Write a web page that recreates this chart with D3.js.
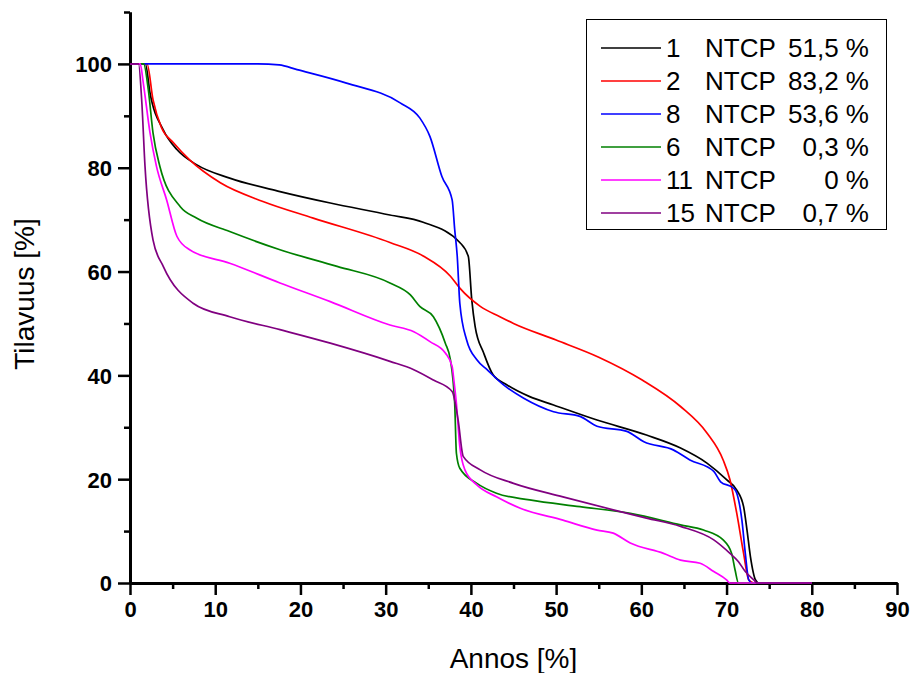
<!DOCTYPE html>
<html>
<head>
<meta charset="utf-8">
<script src="https://cdn.jsdelivr.net/npm/d3@7"></script>
<style>
  body { margin: 0; background: #fff; }
  text { font-family: Arial, "Liberation Sans", sans-serif; }
</style>
</head>
<body>
<div id="chart"></div>
<script>
// chart values (dose %, volume %)
var names = ["1", "2", "8", "6", "11", "15"];
var ntcp = ["51,5 %", "83,2 %", "53,6 %", "0,3 %", "0 %", "0,7 %"];
var colors = ["#000000", "#ff0000", "#0000ff", "#008000", "#ff00ff", "#800080"];

var dose1 = [0, 1.8, 2.35, 3.9, 5.5, 7.8, 11.7, 17.6, 23.5, 30.5, 34.4, 38.7, 39.7, 40.1, 40.5, 41.5, 42.6, 44.2, 46.9, 49.7, 54.8, 60.6, 64.6, 67.7, 70.0, 71.2, 72.0, 72.4, 72.8, 73.4, 73.8, 80];
var vol1 = [100, 100, 94.4, 87.3, 83.5, 80.6, 78.0, 75.4, 73.2, 70.9, 69.5, 65.6, 62.9, 54.6, 49.4, 44.3, 40.1, 38.2, 35.9, 34.3, 31.4, 28.5, 26.0, 23.1, 19.9, 17.9, 14.7, 10.2, 5.1, 0.6, 0, 0];

var dose2 = [0, 2.0, 2.7, 3.7, 5.1, 7.0, 10.6, 15.6, 21.5, 30.5, 34.4, 37.6, 38.7, 41.1, 43.4, 45, 50, 55, 60.1, 64.6, 67.7, 69.6, 70.4, 71.2, 72.0, 72.6, 73.2, 80];
var vol2 = [100, 100, 93.1, 87.7, 84.8, 81.5, 77.1, 73.5, 70.3, 65.6, 63.0, 59.1, 56.8, 53.3, 51.3, 50.0, 46.8, 43.5, 39.1, 34.0, 28.9, 23.7, 19.9, 13.4, 5.7, 0.6, 0, 0];

var dose8 = [0, 15.0, 17.5, 19.6, 25.4, 31.7, 34.0, 35.2, 36.6, 37.8, 38.1, 38.4, 38.7, 39.5, 40.7, 41.9, 43.8, 46.2, 49.7, 52.8, 54.8, 58.3, 60.3, 63.8, 65.7, 68.5, 69.3, 70.8, 71.2, 71.8, 72.2, 72.6, 73.0, 80];
var vol8 = [100, 100, 99.8, 98.9, 96.3, 92.5, 89.6, 86.0, 78.3, 73.8, 68.1, 62.9, 53.9, 46.8, 43.0, 41.1, 38.2, 35.6, 33.0, 32.1, 30.2, 29.2, 27.2, 25.6, 23.7, 21.5, 19.5, 18.3, 17.3, 12.1, 5.7, 0.6, 0, 0];

var dose6 = [0, 1.6, 2.15, 2.7, 3.5, 5.9, 7.8, 11.7, 17.6, 24.3, 30.5, 32.9, 34.0, 35.6, 37.0, 37.6, 37.9, 38.1, 38.3, 38.7, 40.7, 43.0, 46.9, 52.8, 58.7, 64.6, 67.3, 69.6, 70.6, 71.0, 71.4, 80];
var vol6 = [100, 100, 95.0, 86.7, 80.3, 72.5, 70.3, 67.7, 64.2, 61.0, 57.8, 55.5, 53.3, 51.3, 46.2, 43.0, 39.1, 34.6, 25.0, 22.1, 19.2, 17.3, 16.0, 14.7, 13.4, 11.2, 10.2, 8.3, 5.7, 2.5, 0, 0];

var dose11 = [0, 1.2, 1.56, 2.35, 3.1, 4.3, 5.5, 7.0, 11.7, 17.6, 23.5, 30.5, 33.3, 35.2, 37.0, 37.8, 38.0, 38.3, 38.7, 39.3, 40.7, 43.0, 45.8, 50.8, 54.8, 56.7, 58.7, 62.6, 64.6, 66.9, 68.5, 70.0, 70.4, 80];
var vol11 = [100, 100, 96.3, 86.7, 80.3, 73.8, 66.8, 64.2, 61.6, 57.8, 54.2, 49.7, 48.4, 46.5, 44.3, 41.7, 39.1, 34.6, 26.3, 21.8, 18.9, 16.6, 14.4, 12.1, 10.2, 9.6, 7.7, 5.7, 4.4, 3.8, 2.2, 0.6, 0, 0];

var dose15 = [0, 1.0, 1.37, 1.76, 2.7, 3.9, 7.4, 11.7, 17.6, 23.5, 30.5, 33.3, 35.6, 37.8, 38.5, 39.1, 41.1, 45.0, 50.8, 56.7, 60.6, 64.6, 68.5, 70.4, 71.4, 72.2, 73.2, 73.6, 80];
var vol15 = [100, 100, 93.1, 80.3, 66.1, 61.0, 53.9, 51.3, 48.8, 46.2, 42.7, 41.1, 39.1, 36.9, 31.4, 24.4, 21.8, 19.2, 16.6, 14.1, 12.5, 10.9, 8.3, 5.7, 4.1, 2.2, 0.6, 0, 0];

var xMajor = [0, 10, 20, 30, 40, 50, 60, 70, 80, 90];
var yMajor = [0, 20, 40, 60, 80, 100];

var series = [
  { x: dose1, y: vol1 },
  { x: dose2, y: vol2 },
  { x: dose8, y: vol8 },
  { x: dose6, y: vol6 },
  { x: dose11, y: vol11 },
  { x: dose15, y: vol15 }
];

var svgWidth = 912;
var svgHeight = 673;
var margin = { top: 12, right: 15, bottom: 90, left: 130 };
var width = svgWidth - margin.left - margin.right;
var height = svgHeight - margin.top - margin.bottom;

var svg = d3.select("#chart")
  .append("svg")
  .attr("width", svgWidth)
  .attr("height", svgHeight);

var chartGroup = svg.append("g")
  .attr("transform", `translate(${margin.left}, ${margin.top})`);

var xScale = d3.scaleLinear().domain([0, 90]).range([0, width]);
var yScale = d3.scaleLinear().domain([0, 110]).range([height, 0]);

// minor ticks first, then major ticks with labels
var xMinor = d3.range(5, 90, 10);
var yMinor = d3.range(10, 111, 20);

chartGroup.append("g")
  .attr("transform", `translate(0, ${height})`)
  .call(d3.axisBottom(xScale).tickValues(xMinor).tickSize(6).tickSizeOuter(0).tickFormat(""));

chartGroup.append("g")
  .call(d3.axisLeft(yScale).tickValues(yMinor).tickSize(6).tickSizeOuter(0).tickFormat(""));

var xAxis = chartGroup.append("g")
  .attr("transform", `translate(0, ${height})`)
  .call(d3.axisBottom(xScale).tickValues(xMajor).tickSize(12).tickSizeOuter(0).tickPadding(6));

var yAxis = chartGroup.append("g")
  .call(d3.axisLeft(yScale).tickValues(yMajor).tickSize(12).tickSizeOuter(0).tickPadding(6));

chartGroup.selectAll(".domain").attr("stroke", "#000").attr("stroke-width", 3);
chartGroup.selectAll(".tick line").attr("stroke", "#000").attr("stroke-width", 2.5);
chartGroup.selectAll(".tick text")
  .attr("fill", "#000")
  .style("font-size", "22px")
  .style("font-weight", "bold")
  .style("font-family", "Arial, 'Liberation Sans', sans-serif");
yAxis.selectAll(".tick text").attr("dy", "0.36em");

// the curves
var line = d3.line()
  .x(d => xScale(d[0]))
  .y(d => yScale(d[1]))
  .curve(d3.curveMonotoneX);

series.forEach(function(s, i) {
  var pts = s.x.map((v, j) => [v, s.y[j]]);
  chartGroup.append("path")
    .datum(pts)
    .attr("fill", "none")
    .attr("stroke", colors[i])
    .attr("stroke-width", 1.7)
    .attr("stroke-linejoin", "round")
    .attr("d", line);
});

// axis titles
svg.append("text")
  .attr("x", margin.left + width / 2)
  .attr("y", 668)
  .attr("text-anchor", "middle")
  .style("font-size", "28px")
  .text("Annos [%]");

svg.append("text")
  .attr("transform", `translate(34, 294) rotate(-90)`)
  .attr("text-anchor", "middle")
  .style("font-size", "28px")
  .text("Tilavuus [%]");

// legend
var legend = svg.append("g");
legend.append("rect")
  .attr("x", 586.5).attr("y", 19.5)
  .attr("width", 300).attr("height", 210)
  .attr("fill", "#fff")
  .attr("stroke", "#000")
  .attr("stroke-width", 1);

names.forEach(function(n, i) {
  var cy = 48 + i * 33;
  legend.append("line")
    .attr("x1", 601).attr("x2", 661)
    .attr("y1", cy).attr("y2", cy)
    .attr("stroke", colors[i])
    .attr("stroke-width", 1.7);
  legend.append("text")
    .attr("x", 666).attr("y", cy + 9)
    .style("font-size", "26px")
    .text(n);
  legend.append("text")
    .attr("x", 705).attr("y", cy + 9)
    .style("font-size", "26px")
    .text("NTCP");
  legend.append("text")
    .attr("x", 869).attr("y", cy + 9)
    .attr("text-anchor", "end")
    .style("font-size", "26px")
    .text(ntcp[i]);
});
</script>
</body>
</html>
